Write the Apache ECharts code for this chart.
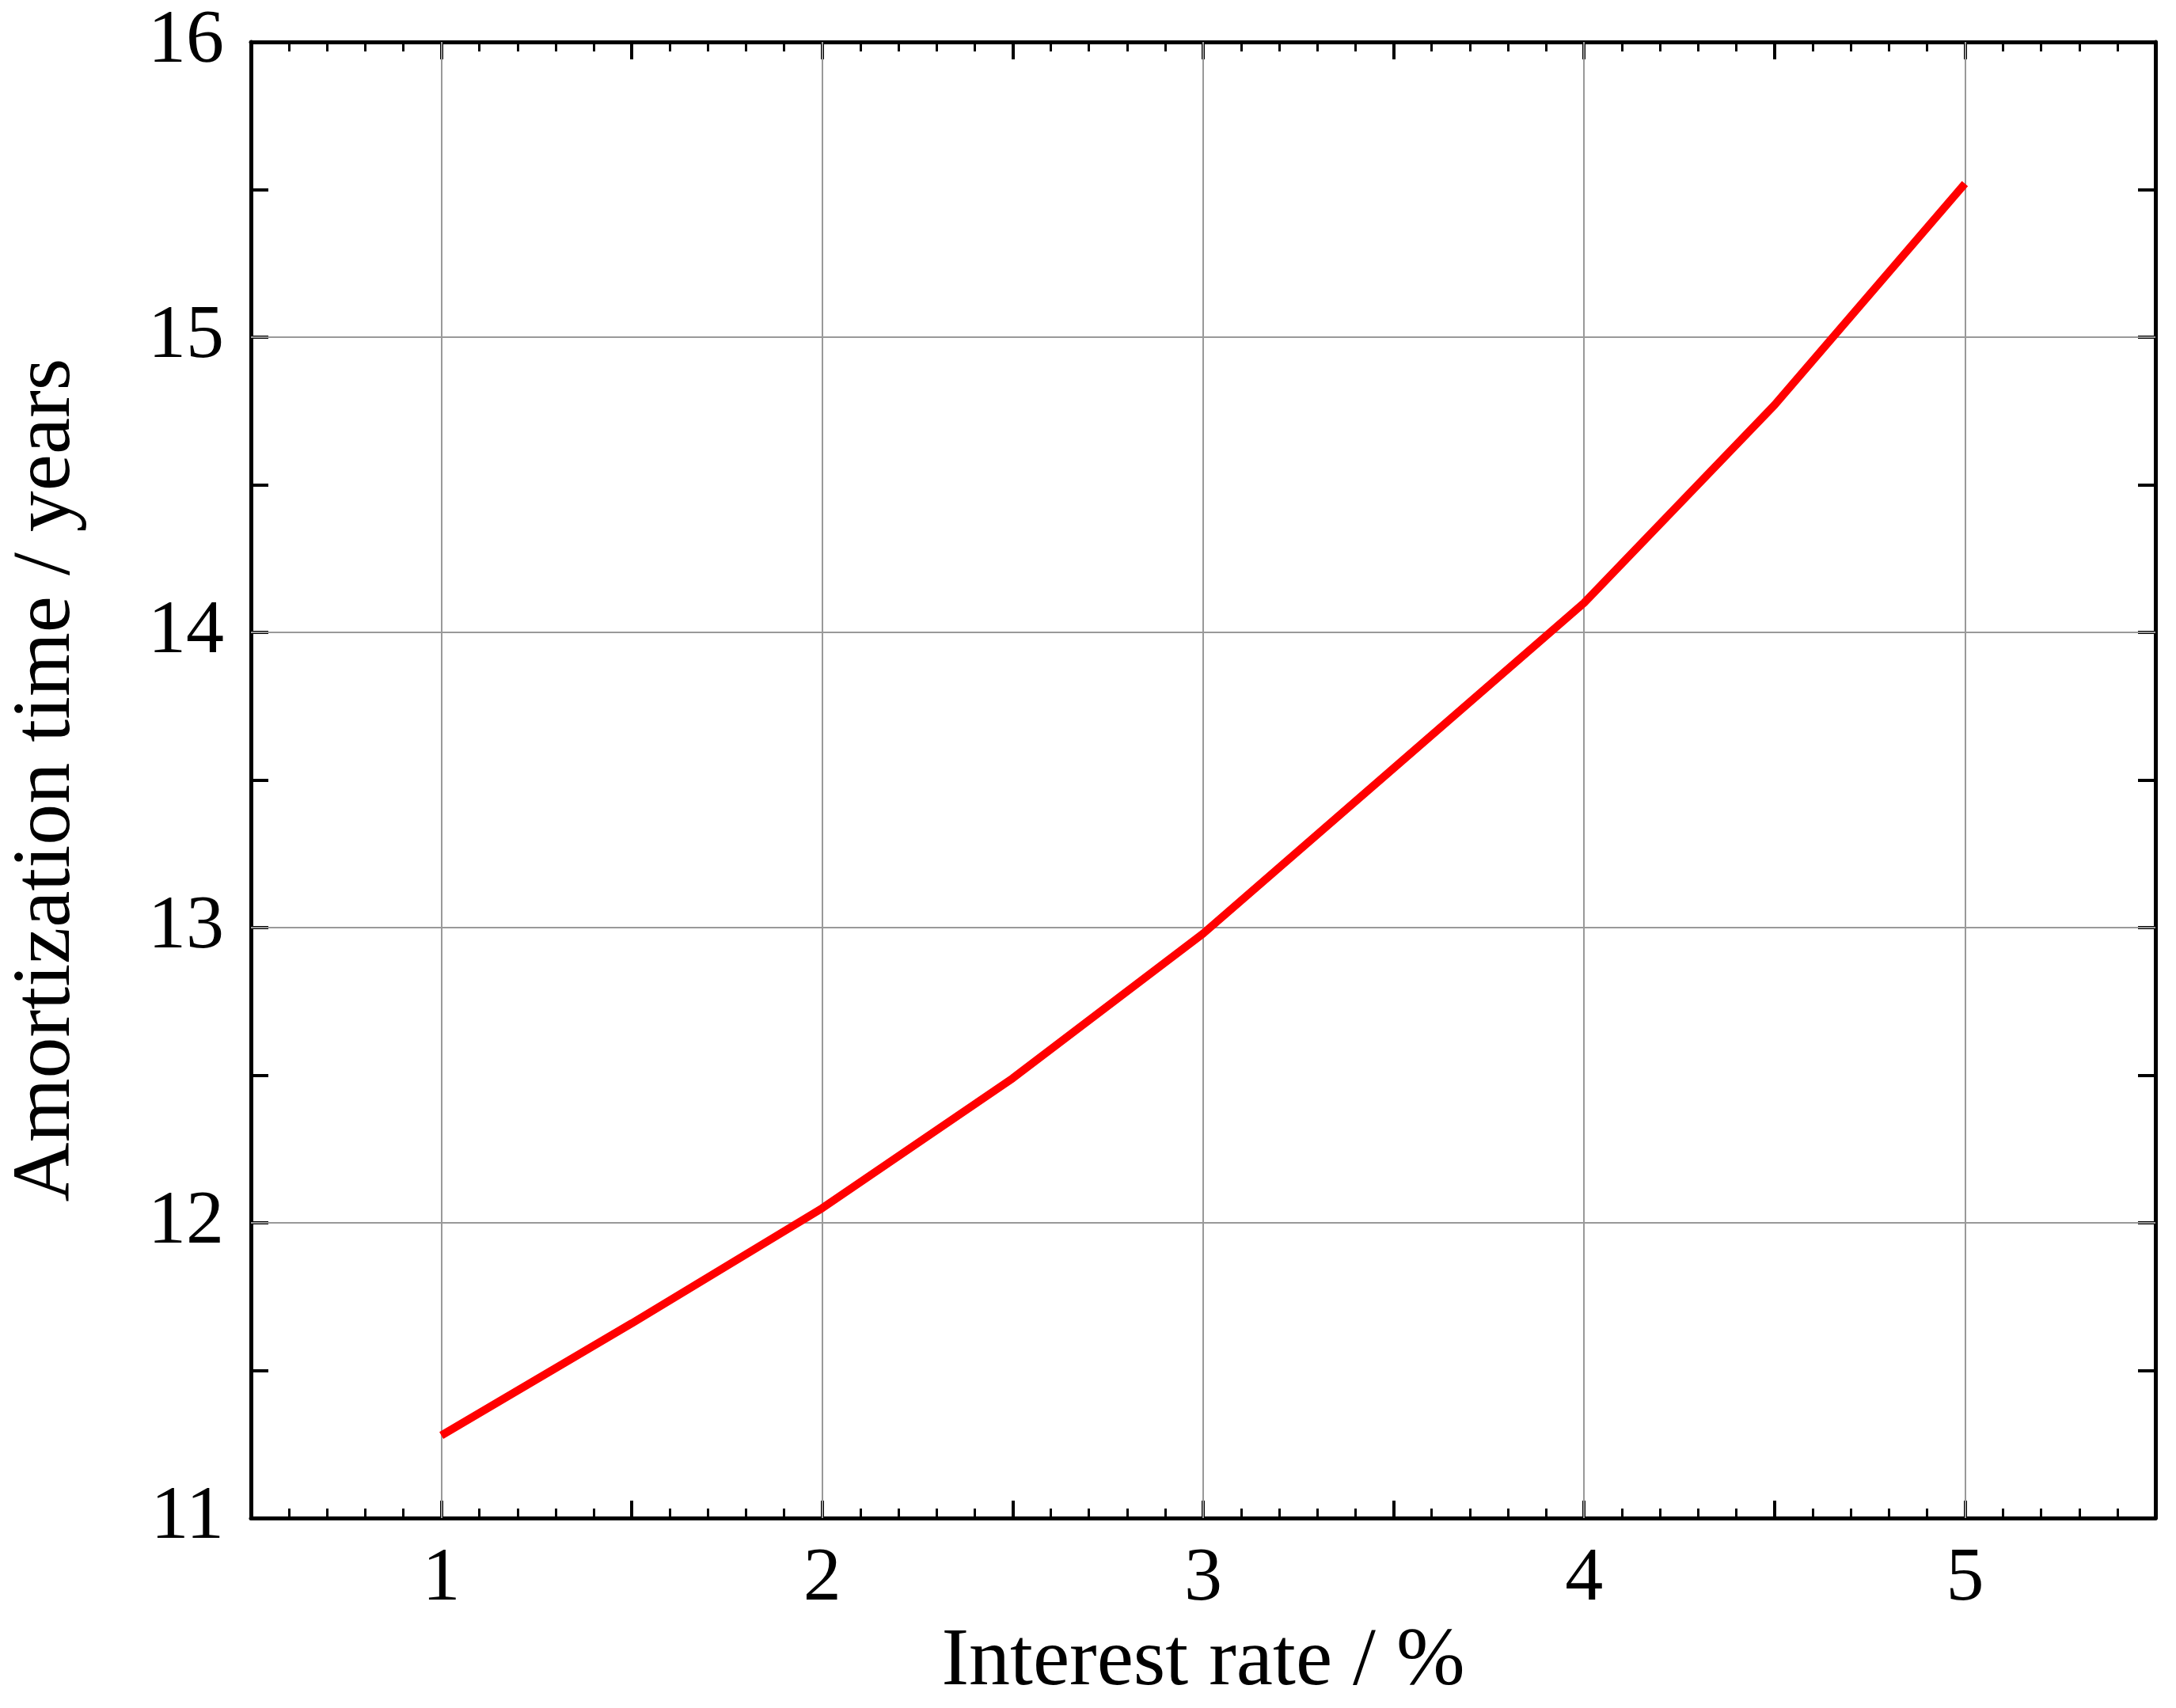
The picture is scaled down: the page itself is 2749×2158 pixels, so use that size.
<!DOCTYPE html>
<html>
<head>
<meta charset="utf-8">
<script src="https://cdn.jsdelivr.net/npm/echarts@6/dist/echarts.min.js"></script>
<style>html,body{margin:0;padding:0;background:#fff}#c{width:2749px;height:2158px}</style>
</head>
<body>
<div id="c"></div>
<script>
// interest rate (%) and amortization time (years)
let rates = [1, 1.5, 2, 2.5, 3, 3.5, 4, 4.5, 5];
let years = [11.28, 11.66, 12.05, 12.49, 12.98, 13.54, 14.1, 14.77, 15.52];
let xGrid = [1, 2, 3, 4, 5];
let yGrid = [12, 13, 14, 15];
let font = "Liberation Serif";

let chart = echarts.init(document.getElementById("c"));
let tickCommon = {
    axisLine: {show: true, onZero: false, lineStyle: {color: "#000", width: 5}},
    axisTick: {show: true, inside: true, length: 22, lineStyle: {color: "#000", width: 4}},
    splitLine: {show: false}
};
let xMinor = {minorTick: {show: true, splitNumber: 5, length: 12, lineStyle: {color: "#000", width: 3}}};
let noMinor = {minorTick: {show: false}};
let labelFmt = function (v) { return Number.isInteger(v) ? v : ""; };
let gridLine = {color: "#999", width: 2, type: "solid"};

let option = {
    animation: false,
    grid: {left: 316, top: 53, right: 26, bottom: 233},
    xAxis: [
        Object.assign({
            type: "value", min: 0.5, max: 5.5, interval: 0.5,
            name: "Interest rate / %", nameLocation: "middle", nameGap: 118,
            nameTextStyle: {fontFamily: font, fontSize: 104, color: "#000"},
            axisLabel: {fontFamily: font, fontSize: 96, color: "#000", margin: 30, formatter: labelFmt}
        }, tickCommon, xMinor),
        Object.assign({
            type: "value", min: 0.5, max: 5.5, interval: 0.5, position: "top",
            axisLabel: {show: false}
        }, tickCommon, xMinor)
    ],
    yAxis: [
        Object.assign({
            type: "value", min: 11, max: 16, interval: 0.5,
            name: "Amortization time / years", nameLocation: "middle", nameGap: 205,
            nameTextStyle: {fontFamily: font, fontSize: 104, color: "#000"},
            axisLabel: {fontFamily: font, fontSize: 96, color: "#000", margin: 34, formatter: labelFmt}
        }, tickCommon, noMinor),
        Object.assign({
            type: "value", min: 11, max: 16, interval: 0.5, position: "right",
            axisLabel: {show: false}
        }, tickCommon, noMinor)
    ],
    series: [{
        type: "line",
        data: rates.map(function (r, i) { return [r, years[i]]; }),
        showSymbol: false,
        lineStyle: {color: "#ff0000", width: 10},
        itemStyle: {color: "#ff0000"},
        z: 5,
        markLine: {
            silent: true, symbol: "none", label: {show: false},
            lineStyle: gridLine, z: 1,
            data: xGrid.map(function (v) { return {xAxis: v}; })
                .concat(yGrid.map(function (v) { return {yAxis: v}; }))
        }
    }]
};
chart.setOption(option);
</script>
</body>
</html>
